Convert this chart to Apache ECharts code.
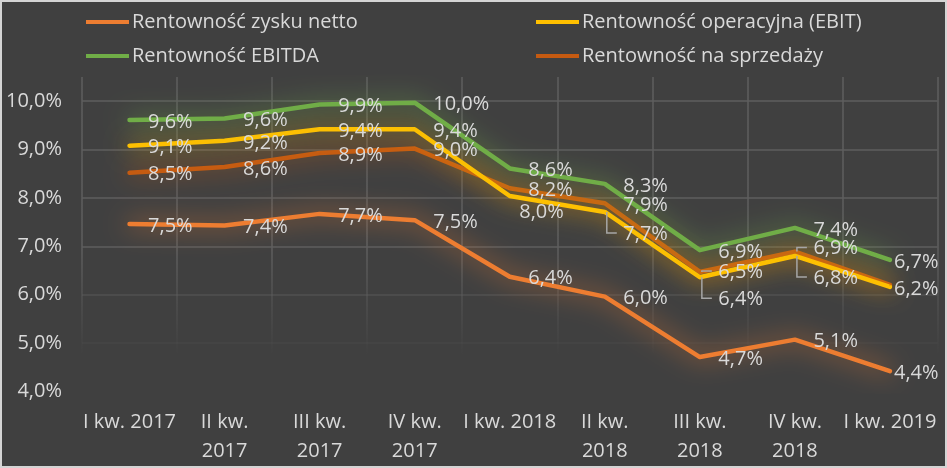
<!DOCTYPE html>
<html><head><meta charset="utf-8">
<script src="https://cdn.jsdelivr.net/npm/echarts@6/dist/echarts.min.js"></script>
<style>
html,body{margin:0;padding:0;background:#404040;}
#c{position:absolute;left:0;top:0;width:947px;height:468px;}
#frame{position:absolute;left:0;top:0;width:947px;height:468px;box-sizing:border-box;border:2px solid #d4d4d4;pointer-events:none;}
</style></head>
<body><div id="c"></div><div id="frame"></div>
<script>
// ---- data ----
const categories = ['I kw. 2017','II kw. 2017','III kw. 2017','IV kw. 2017','I kw. 2018','II kw. 2018','III kw. 2018','IV kw. 2018','I kw. 2019'];
const tickLabels = ['I kw. 2017','II kw.\n2017','III kw.\n2017','IV kw.\n2017','I kw. 2018','II kw.\n2018','III kw.\n2018','IV kw.\n2018','I kw. 2019'];
const seriesNames = ['Rentowność zysku netto','Rentowność operacyjna (EBIT)','Rentowność EBITDA','Rentowność na sprzedaży'];
const netto     = [7.46, 7.43, 7.67, 7.54, 6.37, 5.96, 4.71, 5.07, 4.42];
const ebit      = [9.08, 9.18, 9.42, 9.42, 8.04, 7.71, 6.36, 6.80, 6.16];
const ebitda    = [9.61, 9.64, 9.93, 9.97, 8.61, 8.29, 6.92, 7.38, 6.72];
const sprzedazy = [8.52, 8.64, 8.93, 9.02, 8.20, 7.89, 6.47, 6.89, 6.20];
const yMin = 4, yMax = 10.5, yInterval = 1;

// ---- styling / layout ----
const FONT = '"Open Sans", sans-serif';
const TXT = '#d9d9d9';
const GRID = '#5e5e5e';
const BASE_DY = 2;

const fmt = v => (Math.round(v * 10) / 10).toFixed(1).replace('.', ',') + '%';

// per-point label adjustments [dx, dy] (layout only); null hides a label that coincides with another
const labelAdj = {
  netto: {8: [-14.5, 0]},
  ebit: {4: [-9, 14], 5: [0, 20], 6: [0, 20], 7: [0, 20], 8: [-14.5, 0]},
  ebitda: {8: [-14.5, 0]},
  sprzedazy: {6: [0, -2], 7: [0, -5], 8: null}
};
const leaders = [
  {key: 'ebit', data: ebit, i: 5}, {key: 'ebit', data: ebit, i: 6}, {key: 'ebit', data: ebit, i: 7},
  {key: 'sprzedazy', data: sprzedazy, i: 6}, {key: 'sprzedazy', data: sprzedazy, i: 7}
];

function mk(key, name, data, color, glow) {
  const adj = labelAdj[key] || {};
  return {
    name: name, type: 'line', data: data.map((v, i) => {
      if (adj[i] === null) return {value: v, label: {show: false}};
      const a = adj[i] || [0, 0];
      return {value: v, label: {offset: [a[0], a[1] + BASE_DY]}};
    }),
    symbol: 'circle', symbolSize: 1, showSymbol: true,
    itemStyle: {color: color},
    lineStyle: {color: color, width: 4.5, shadowBlur: 24, shadowColor: glow, cap: 'round', join: 'round'},
    label: {show: true, position: 'right', distance: 18, color: TXT, fontSize: 20, fontFamily: FONT,
      formatter: p => fmt(p.value)},
    emphasis: {disabled: true},
    animation: false
  };
}

function legendAt(name, left, top) {
  return {
    data: [name], left: left, top: top, padding: 0, icon: 'rect', itemWidth: 43, itemHeight: 4,
    itemStyle: {shadowBlur: 0, borderWidth: 0},
    textStyle: {color: TXT, fontSize: 20, fontFamily: FONT, lineHeight: 20, padding: [0, 0, 0, -2]},
    selectedMode: false
  };
}

const chart = echarts.init(document.getElementById('c'), null, {renderer: 'canvas'});
const option = {
  backgroundColor: '#404040',
  animation: false,
  legend: [
    legendAt(seriesNames[0], 86, 12),
    legendAt(seriesNames[1], 536, 12),
    legendAt(seriesNames[2], 86, 46),
    legendAt(seriesNames[3], 536, 46)
  ],
  grid: {left: 82, right: 9.5, top: 77, bottom: 76.6, containLabel: false, outerBoundsMode: 'none'},
  xAxis: {
    type: 'category', data: categories, boundaryGap: true,
    axisLine: {show: false}, axisTick: {show: false},
    axisLabel: {interval: 0, margin: 16, color: TXT, fontSize: 20, fontFamily: FONT, lineHeight: 29,
      formatter: (v, i) => tickLabels[i]},
    splitLine: {show: true, interval: 0, lineStyle: {width: 1.5, color: {
      type: 'linear', x: 0, y: 250, x2: 0, y2: 355, global: true,
      colorStops: [{offset: 0, color: 'rgba(94,94,94,1)'}, {offset: 1, color: 'rgba(94,94,94,0)'}]
    }}}
  },
  yAxis: {
    type: 'value', min: yMin, max: yMax, interval: yInterval,
    axisLine: {show: false}, axisTick: {show: false},
    axisLabel: {margin: 20, color: TXT, fontSize: 20, fontFamily: FONT,
      formatter: v => v > 10.01 ? '' : v.toFixed(1).replace('.', ',') + '%'},
    splitLine: {show: true, lineStyle: {width: 1.5, color: [
      'rgba(94,94,94,0)', 'rgba(94,94,94,0.2)', 'rgba(94,94,94,0.55)', GRID, GRID, GRID, GRID, 'rgba(0,0,0,0)'
    ]}}
  },
  series: [
    mk('netto', seriesNames[0], netto, '#ED7D31', 'rgba(237,125,49,1)'),
    mk('sprzedazy', seriesNames[3], sprzedazy, '#C55A11', 'rgba(197,90,17,1)'),
    mk('ebit', seriesNames[1], ebit, '#FFC000', 'rgba(255,192,0,0.85)'),
    mk('ebitda', seriesNames[2], ebitda, '#70AD47', 'rgba(112,173,71,1)')
  ]
};
chart.setOption(option);

// leader lines (from each moved label to its point), positioned via the chart's own scales
const g = leaders.map(L => {
  const p = chart.convertToPixel({gridIndex: 0}, [L.i, L.data[L.i]]);
  const dy = labelAdj[L.key][L.i][1] + BASE_DY;
  const x = p[0] + 2, ly = p[1] + dy - 1;
  return {type: 'polyline', z: 100, shape: {points: [[x, p[1]], [x, ly], [x + 10, ly]]},
    style: {stroke: '#a6a6a6', lineWidth: 1.5, fill: null}};
});
chart.setOption({graphic: g});
</script>
</body></html>
